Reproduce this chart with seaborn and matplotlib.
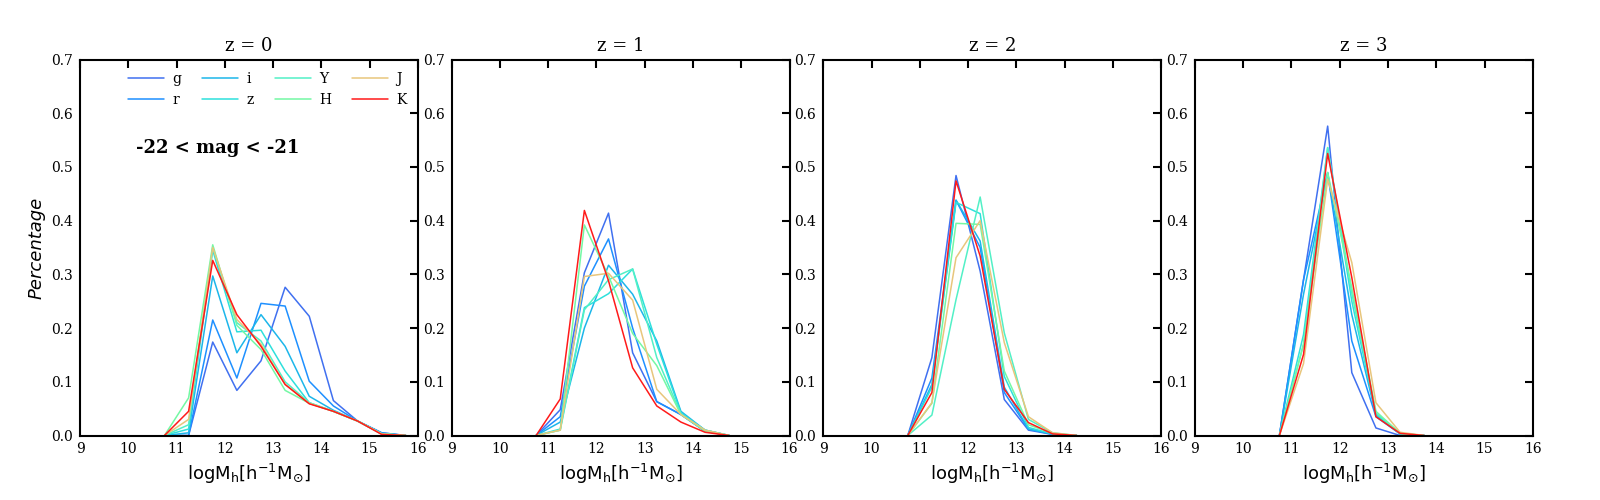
import numpy as np
import pandas as pd
import matplotlib
matplotlib.use('Agg')
import matplotlib.pyplot as plt
import seaborn as sns

sns.set_style('white')
plt.rcParams['font.family'] = ['DejaVu Serif']
plt.rcParams['mathtext.fontset'] = 'dejavusans'
plt.rcParams['text.color'] = 'black'
plt.rcParams['axes.labelcolor'] = 'black'
plt.rcParams['xtick.color'] = 'black'
plt.rcParams['ytick.color'] = 'black'

bands = ['g', 'r', 'i', 'z', 'Y', 'H', 'J', 'K']
colors = ['#4070f0', '#1e90ff', '#1cb6ea', '#2ee0dc', '#52f0c6', '#74f8a4', '#e8c67c', '#ff1a1a']
redshifts = ['z = 0', 'z = 1', 'z = 2', 'z = 3']

# halo mass bin centres per panel
mass0 = [10.75, 11.25, 11.75, 12.25, 12.75, 13.25, 13.75, 14.25, 14.75, 15.25, 15.75]
mass1 = [10.75, 11.25, 11.75, 12.25, 12.75, 13.25, 13.75, 14.25, 14.75]
mass2 = [10.75, 11.25, 11.75, 12.25, 12.75, 13.25, 13.75, 14.25]
mass3 = [10.75, 11.25, 11.75, 12.25, 12.75, 13.25, 13.75]

# z = 0
z0_g = [0, 0, 0.174, 0.084, 0.139, 0.276, 0.222, 0.065, 0.027, 0.005, 0]
z0_r = [0, 0, 0.215, 0.107, 0.246, 0.241, 0.101, 0.055, 0.027, 0.005, 0]
z0_i = [0, 0.005, 0.297, 0.154, 0.225, 0.166, 0.073, 0.047, 0.027, 0.004, 0]
z0_z = [0, 0.012, 0.345, 0.193, 0.196, 0.120, 0.061, 0.045, 0.027, 0.003, 0]
z0_Y = [0, 0.020, 0.350, 0.210, 0.176, 0.100, 0.061, 0.045, 0.027, 0.003, 0]
z0_H = [0, 0.070, 0.355, 0.205, 0.160, 0.084, 0.060, 0.045, 0.027, 0.003, 0]
z0_J = [0, 0.030, 0.350, 0.216, 0.170, 0.095, 0.060, 0.045, 0.027, 0.003, 0]
z0_K = [0, 0.045, 0.326, 0.225, 0.166, 0.095, 0.059, 0.045, 0.027, 0.002, 0]

# z = 1
z1_g = [0, 0.048, 0.303, 0.414, 0.154, 0.063, 0.039, 0.008, 0]
z1_r = [0, 0.035, 0.278, 0.366, 0.200, 0.063, 0.039, 0.008, 0]
z1_i = [0, 0.025, 0.200, 0.317, 0.263, 0.176, 0.045, 0.010, 0]
z1_z = [0, 0.012, 0.238, 0.264, 0.310, 0.170, 0.042, 0.010, 0]
z1_Y = [0, 0.010, 0.234, 0.290, 0.310, 0.145, 0.040, 0.010, 0]
z1_H = [0, 0.010, 0.392, 0.297, 0.190, 0.130, 0.039, 0.008, 0]
z1_J = [0, 0.010, 0.296, 0.302, 0.252, 0.086, 0.039, 0.010, 0]
z1_K = [0, 0.068, 0.419, 0.288, 0.126, 0.055, 0.025, 0.006, 0]

# z = 2
z2_g = [0, 0.145, 0.484, 0.306, 0.067, 0.010, 0.002, 0]
z2_r = [0, 0.107, 0.438, 0.350, 0.080, 0.012, 0.002, 0]
z2_i = [0, 0.095, 0.438, 0.362, 0.090, 0.012, 0.003, 0]
z2_z = [0, 0.090, 0.434, 0.413, 0.110, 0.015, 0.003, 0]
z2_Y = [0, 0.038, 0.253, 0.444, 0.191, 0.030, 0.005, 0]
z2_H = [0, 0.060, 0.395, 0.393, 0.120, 0.020, 0.004, 0]
z2_J = [0, 0.061, 0.331, 0.400, 0.173, 0.035, 0.005, 0]
z2_K = [0, 0.080, 0.474, 0.334, 0.086, 0.024, 0.003, 0]

# z = 3
z3_g = [0, 0.290, 0.576, 0.117, 0.014, 0, 0]
z3_r = [0, 0.290, 0.489, 0.176, 0.035, 0.003, 0]
z3_i = [0, 0.263, 0.489, 0.225, 0.038, 0.003, 0]
z3_z = [0, 0.188, 0.536, 0.250, 0.040, 0.003, 0]
z3_Y = [0, 0.170, 0.536, 0.265, 0.042, 0.004, 0]
z3_H = [0, 0.170, 0.490, 0.275, 0.045, 0.004, 0]
z3_J = [0, 0.134, 0.477, 0.322, 0.061, 0.006, 0]
z3_K = [0, 0.151, 0.525, 0.294, 0.035, 0.004, 0]

panels = [
    (mass0, [z0_g, z0_r, z0_i, z0_z, z0_Y, z0_H, z0_J, z0_K]),
    (mass1, [z1_g, z1_r, z1_i, z1_z, z1_Y, z1_H, z1_J, z1_K]),
    (mass2, [z2_g, z2_r, z2_i, z2_z, z2_Y, z2_H, z2_J, z2_K]),
    (mass3, [z3_g, z3_r, z3_i, z3_z, z3_Y, z3_H, z3_J, z3_K]),
]

fig, axes = plt.subplots(1, 4, figsize=(16, 5), dpi=100)
plt.subplots_adjust(left=0.050, right=0.958, bottom=0.129, top=0.881, wspace=0.10)

for k, ax in enumerate(axes):
    mass, series = panels[k]
    rows = []
    for b, vals in zip(bands, series):
        for m, v in zip(mass, vals):
            rows.append({'mass': m, 'frac': v, 'band': b})
    df = pd.DataFrame(rows)
    sns.lineplot(data=df, x='mass', y='frac', hue='band', hue_order=bands,
                 palette=colors, linewidth=1.1, ax=ax, legend=False)

    ax.set_xlim(9, 16)
    ax.set_ylim(0, 0.7)
    ax.set_xticks(range(9, 17))
    ax.set_yticks(np.arange(0, 0.71, 0.1))
    ax.set_yticklabels(['%.1f' % t for t in np.arange(0, 0.71, 0.1)])
    ax.tick_params(direction='in', length=6, width=1.5, top=True, right=True,
                   labelsize=10, pad=5)
    for s in ax.spines.values():
        s.set_linewidth(1.5)
        s.set_color('black')
    ax.set_title(redshifts[k], fontsize=13)
    ax.set_xlabel(r'$\rm logM_h[h^{-1}M_{\odot}]$', fontsize=13, family='DejaVu Sans')
    ax.set_ylabel('')

axes[0].set_ylabel('Percentage', fontsize=13, style='italic', family='DejaVu Sans')
handles = [plt.Line2D([], [], color=c, lw=1.1) for c in colors]
axes[0].legend(handles, bands, ncol=4, loc='upper center', frameon=False,
               fontsize=10, handlelength=2.6, handletextpad=0.6, columnspacing=1.5,
               bbox_to_anchor=(0.555, 1.0), borderaxespad=0.5, labelspacing=0.5)
axes[0].text(10.15, 0.535, '-22 < mag < -21', fontsize=13, fontweight='bold',
             va='center', ha='left')

fig.savefig('out.png', dpi=100)
